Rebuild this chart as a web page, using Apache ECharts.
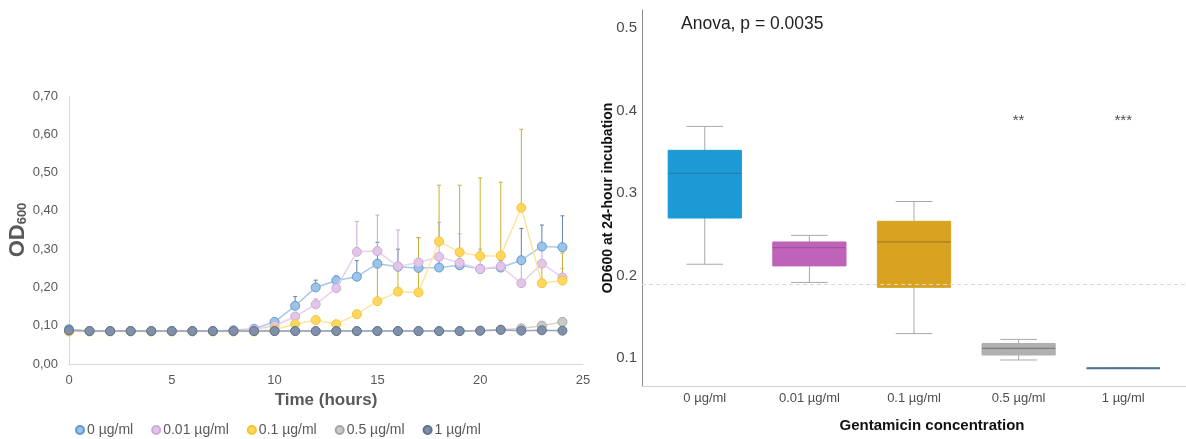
<!DOCTYPE html>
<html>
<head>
<meta charset="utf-8">
<script src="https://cdn.jsdelivr.net/npm/echarts@6/dist/echarts.min.js"></script>
<style>
  html, body { margin: 0; padding: 0; background: #fff; }
  #chartImg { width: 1186px; height: 439px; }
</style>
</head>
<body>
<div id="chartImg"></div>
<script>
// growth curves (left)
var hours = [0,1,2,3,4,5,6,7,8,9,10,11,12,13,14,15,16,17,18,19,20,21,22,23,24];
var concNames = ['0 µg/ml', '0.01 µg/ml', '0.1 µg/ml', '0.5 µg/ml', '1 µg/ml'];
var od0    = [0.091,0.086,0.086,0.086,0.086,0.086,0.086,0.086,0.088,0.092,0.110,0.152,0.200,0.218,0.228,0.262,0.254,0.251,0.252,0.258,0.248,0.252,0.271,0.307,0.305];
var od001  = [0.088,0.086,0.086,0.086,0.086,0.086,0.086,0.086,0.087,0.090,0.100,0.124,0.156,0.198,0.293,0.295,0.255,0.265,0.280,0.264,0.248,0.255,0.211,0.262,0.226];
var od01   = [0.085,0.085,0.085,0.085,0.085,0.085,0.085,0.085,0.085,0.085,0.090,0.104,0.115,0.104,0.130,0.164,0.189,0.187,0.320,0.292,0.282,0.283,0.408,0.211,0.218];
var od05   = [0.088,0.086,0.086,0.086,0.086,0.086,0.086,0.086,0.086,0.086,0.086,0.086,0.086,0.086,0.086,0.086,0.086,0.086,0.086,0.086,0.087,0.090,0.093,0.100,0.110];
var od1    = [0.088,0.086,0.086,0.086,0.086,0.086,0.086,0.086,0.086,0.086,0.086,0.086,0.086,0.086,0.086,0.086,0.086,0.086,0.086,0.086,0.087,0.089,0.087,0.088,0.087];
// top of error bars (null = no visible bar)
var err0   = [null,null,null,null,null,null,null,null,null,null,0.116,0.176,0.219,0.230,0.270,0.318,0.300,0.275,0.270,0.275,0.260,0.270,0.354,0.363,0.387];
var err001 = [null,null,null,null,null,null,null,null,null,null,null,0.130,0.170,0.205,0.372,0.389,0.350,0.330,0.370,0.340,0.300,0.280,0.270,0.300,0.250];
var err01  = [null,null,null,null,null,null,null,null,null,null,null,null,null,null,null,0.260,0.250,0.330,0.467,0.467,0.486,0.475,0.613,0.260,0.290];
var err05  = [null,null,null,null,null,null,null,null,null,null,null,null,null,null,null,null,null,null,null,null,null,null,null,0.104,0.115];
var yTicksLeft = [0, 0.1, 0.2, 0.3, 0.4, 0.5, 0.6, 0.7];

// boxplot at 24 h (right)
var gentCats = ['0 µg/ml', '0.01 µg/ml', '0.1 µg/ml', '0.5 µg/ml', '1 µg/ml'];
var boxLow  = [0.214, 0.192, 0.130, 0.098, 0.088];
var boxQ1   = [0.270, 0.212, 0.186, 0.104, 0.088];
var boxMed  = [0.324, 0.234, 0.241, 0.112, 0.088];
var boxQ3   = [0.352, 0.241, 0.266, 0.118, 0.088];
var boxHigh = [0.381, 0.249, 0.290, 0.123, 0.088];
var sigLabels = ['', '', '', '**', '***'];
var sigY = 0.388;
var refLine = 0.19;
var yTicksRight = [0.1, 0.2, 0.3, 0.4, 0.5];

var lineFill   = ['#9DC3E6', '#E2C6E8', '#FFD75E', '#C9C9C9', '#7F90A8'];
var lineBorder = ['#5B9BD5', '#CFA9DA', '#F2C531', '#A5A5A5', '#5F7290'];
var lineColor  = ['#A9C9E8', '#E8D0EC', '#FBE6A0', '#D3D3D3', '#95A3B8'];
var errColor   = ['#5E82AE', '#C7A9D2', '#C9AE35', '#B0B0B0', '#8090A8'];
var boxFill    = ['#1B9AD6', '#BE63B8', '#D9A322', '#B0B0B0', '#4C7491'];
var boxMedCol  = ['#2A7DAA', '#9D4C97', '#A67C1A', '#7C7C7C', '#4C7491'];

var odSets = [od0, od001, od01, od05, od1];
var errSets = [err0, err001, err01, err05, null];

function errRender(color) {
  return function (params, api) {
    var p0 = api.coord([api.value(0), api.value(1)]);
    var p1 = api.coord([api.value(0), api.value(2)]);
    return {
      type: 'group',
      children: [
        { type: 'line', shape: { x1: p0[0], y1: p0[1], x2: p1[0], y2: p1[1] }, style: { stroke: color, lineWidth: 1 } },
        { type: 'line', shape: { x1: p1[0] - 2, y1: p1[1], x2: p1[0] + 2, y2: p1[1] }, style: { stroke: color, lineWidth: 1 } }
      ]
    };
  };
}

var series = [];
for (var s = 0; s < 5; s++) {
  if (errSets[s]) {
    var ed = [];
    for (var i = 0; i < hours.length; i++) {
      if (errSets[s][i] != null) ed.push([hours[i], odSets[s][i], errSets[s][i]]);
    }
    series.push({
      type: 'custom', xAxisIndex: 0, yAxisIndex: 0, z: 1, silent: true,
      renderItem: errRender(errColor[s]),
      encode: { x: 0, y: [1, 2] },
      data: ed
    });
  }
}
for (var s2 = 0; s2 < 5; s2++) {
  series.push({
    name: concNames[s2], type: 'line', xAxisIndex: 0, yAxisIndex: 0, z: 3 + s2,
    symbol: 'circle', symbolSize: 9,
    lineStyle: { color: lineColor[s2], width: 1.5 },
    itemStyle: { color: lineFill[s2], borderColor: lineBorder[s2], borderWidth: 1 },
    data: hours.map(function (h, k) { return [h, odSets[s2][k]]; })
  });
}

var boxData = gentCats.map(function (c, k) {
  return [k + 1, boxLow[k], boxQ1[k], boxMed[k], boxQ3[k], boxHigh[k]];
});
series.push({
  type: 'custom', xAxisIndex: 1, yAxisIndex: 1, z: 2,
  renderItem: function (params, api) {
    var k = params.dataIndex;
    var x = api.value(0);
    var bw = api.size([1, 0])[0] * 0.7;
    var pLo = api.coord([x, api.value(1)]);
    var pQ1 = api.coord([x, api.value(2)]);
    var pMed = api.coord([x, api.value(3)]);
    var pQ3 = api.coord([x, api.value(4)]);
    var pHi = api.coord([x, api.value(5)]);
    var cx = pMed[0];
    var wc = '#A8A8A8';
    return {
      type: 'group',
      children: [
        { type: 'line', shape: { x1: cx, y1: pHi[1], x2: cx, y2: pQ3[1] }, style: { stroke: wc, lineWidth: 1 } },
        { type: 'line', shape: { x1: cx, y1: pQ1[1], x2: cx, y2: pLo[1] }, style: { stroke: wc, lineWidth: 1 } },
        { type: 'line', shape: { x1: cx - bw / 4, y1: pHi[1], x2: cx + bw / 4, y2: pHi[1] }, style: { stroke: wc, lineWidth: 1 } },
        { type: 'line', shape: { x1: cx - bw / 4, y1: pLo[1], x2: cx + bw / 4, y2: pLo[1] }, style: { stroke: wc, lineWidth: 1 } },
        { type: 'rect', shape: { x: cx - bw / 2, y: pQ3[1], width: bw, height: pQ1[1] - pQ3[1] },
          style: { fill: boxFill[k], stroke: boxFill[k], lineWidth: 1 } },
        { type: 'line', shape: { x1: cx - bw / 2, y1: pMed[1], x2: cx + bw / 2, y2: pMed[1] },
          style: { stroke: boxMedCol[k], lineWidth: k === 4 ? 2 : 1.2 } }
      ]
    };
  },
  encode: { x: 0, y: [1, 2, 3, 4, 5] },
  data: boxData,
  markLine: {
    silent: true, symbol: 'none', label: { show: false },
    lineStyle: { color: '#DADADA', type: [4, 3], width: 1 },
    data: [{ yAxis: refLine }]
  }
});
series.push({
  type: 'scatter', xAxisIndex: 1, yAxisIndex: 1, symbolSize: 0, silent: true,
  label: { show: true, position: 'inside', formatter: function (p) { return p.data[2]; }, fontSize: 15, color: '#222' },
  data: gentCats.map(function (c, k) { return [k + 1, sigY, sigLabels[k]]; }).filter(function (d) { return d[2]; })
});

var myChart = echarts.init(document.getElementById('chartImg'));
var option = {
  animation: false,
  textStyle: { fontFamily: 'Liberation Sans, Arial, sans-serif' },
  title: {
    text: 'Anova, p = 0.0035', left: 676, top: 10,
    textStyle: { fontSize: 17.5, fontWeight: 'normal', color: '#222' }
  },
  legend: {
    data: concNames, left: 70, top: 418,
    icon: 'circle', itemWidth: 8, itemHeight: 8, itemGap: 18,
    textStyle: { fontSize: 14, color: '#595959', padding: [0, 0, 0, -2] }
  },
  grid: [
    { left: 69, right: 603, top: 96, bottom: 75 },
    { left: 642, right: -8, top: 10, bottom: 53 }
  ],
  xAxis: [
    {
      gridIndex: 0, type: 'value', min: 0, max: 25, interval: 5,
      name: 'Time (hours)', nameLocation: 'middle', nameGap: 27,
      nameTextStyle: { fontSize: 17, fontWeight: 'bold', color: '#595959' },
      axisLine: { lineStyle: { color: '#D9D9D9' } },
      axisTick: { show: false }, splitLine: { show: false },
      axisLabel: { fontSize: 13, color: '#595959', margin: 10 }
    },
    {
      gridIndex: 1, type: 'value', min: 0.4, max: 5.6,
      name: 'Gentamicin concentration', nameLocation: 'middle', nameGap: 32,
      nameTextStyle: { fontSize: 15, fontWeight: 'bold', color: '#111', padding: [0, 0, 0, 36] },
      axisLine: { lineStyle: { color: '#CFCFCF' } },
      axisTick: { show: false }, splitLine: { show: false },
      axisLabel: {
        customValues: [1, 2, 3, 4, 5], fontSize: 13, color: '#4D4D4D', margin: 6,
        formatter: function (v) { return gentCats[Math.round(v) - 1]; }
      }
    }
  ],
  yAxis: [
    {
      gridIndex: 0, type: 'value', min: 0, max: 0.7, interval: 0.1,
      name: '{a|OD}{b|600}', nameLocation: 'middle', nameGap: 36,
      nameTextStyle: {
        rich: {
          a: { fontSize: 22, fontWeight: 'bold', color: '#595959', verticalAlign: 'bottom', lineHeight: 26 },
          b: { fontSize: 13, fontWeight: 'bold', color: '#595959', verticalAlign: 'bottom', lineHeight: 18 }
        }
      },
      axisLine: { show: true, lineStyle: { color: '#D9D9D9' } },
      axisTick: { show: false }, splitLine: { show: false },
      axisLabel: {
        customValues: yTicksLeft, fontSize: 13, color: '#595959', margin: 11,
        formatter: function (v) { return v.toFixed(2).replace('.', ','); }
      }
    },
    {
      gridIndex: 1, type: 'value', min: 0.0665, max: 0.522,
      name: 'OD600 at 24-hour incubation', nameLocation: 'middle', nameGap: 27,
      nameMoveOverlap: false,
      nameTextStyle: { fontSize: 14, fontWeight: 'bold', color: '#111' },
      axisLine: { show: true, lineStyle: { color: '#8C8C8C' } },
      axisTick: { show: false }, splitLine: { show: false },
      axisLabel: {
        customValues: yTicksRight, fontSize: 15, color: '#4D4D4D', margin: 5,
        formatter: function (v) { return String(v); }
      }
    }
  ],
  series: series
};
myChart.setOption(option);
</script>
</body>
</html>
